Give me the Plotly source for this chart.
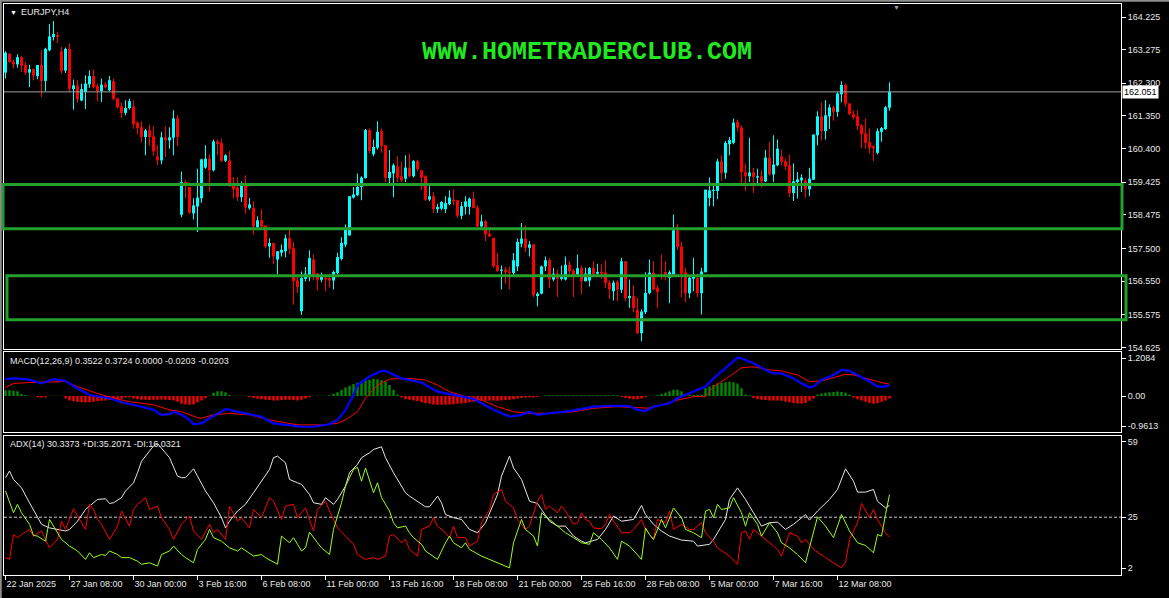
import plotly.graph_objects as go

# ---------------- DATA ----------------
tick_idx = [0, 16, 32, 48, 64, 80, 96, 112, 128, 144, 160, 176, 192, 208]
tick_text = ["22 Jan 2025", "27 Jan 08:00", "30 Jan 00:00", "3 Feb 16:00", "6 Feb 08:00",
             "11 Feb 00:00", "13 Feb 16:00", "18 Feb 08:00", "21 Feb 00:00", "25 Feb 16:00",
             "28 Feb 08:00", "5 Mar 00:00", "7 Mar 16:00", "12 Mar 08:00"]

ohlc_rows = [
    (162.61, 163.23, 162.44, 163.19), (163.16, 163.18, 162.90, 162.92), (162.92, 162.99, 162.73, 162.85),
    (162.85, 163.14, 162.75, 163.06), (163.06, 163.10, 162.63, 162.81), (162.83, 162.92, 162.55, 162.61),
    (162.61, 162.84, 162.19, 162.71), (162.71, 162.73, 162.38, 162.53), (162.51, 162.83, 162.42, 162.83),
    (162.83, 163.26, 161.90, 162.37), (162.37, 163.33, 162.07, 163.30), (163.26, 164.02, 163.23, 163.66),
    (163.64, 164.11, 163.54, 163.73), (163.70, 163.78, 163.47, 163.65), (163.23, 163.36, 162.58, 162.66),
    (162.67, 163.34, 162.60, 163.30), (163.30, 163.46, 162.05, 162.14), (162.13, 162.41, 161.53, 162.24),
    (162.24, 162.39, 161.74, 161.84), (161.80, 162.29, 161.78, 162.13), (162.05, 162.53, 161.55, 162.29),
    (162.27, 162.68, 162.17, 162.51), (162.51, 162.71, 162.15, 162.19), (162.22, 162.29, 161.78, 162.07),
    (162.07, 162.44, 161.76, 162.26), (162.27, 162.34, 162.15, 162.18), (162.10, 162.51, 162.07, 162.39),
    (162.36, 162.44, 161.81, 161.85), (161.86, 161.87, 161.56, 161.60), (161.63, 161.74, 161.29, 161.44),
    (161.44, 161.81, 161.37, 161.58), (161.58, 161.86, 161.54, 161.78), (161.63, 161.81, 160.98, 161.12),
    (161.15, 161.20, 160.82, 161.00), (161.02, 161.20, 160.59, 160.74), (160.74, 160.98, 160.21, 160.93),
    (160.93, 161.10, 160.48, 160.74), (160.76, 161.05, 160.19, 160.32), (160.18, 160.50, 159.92, 160.06),
    (160.06, 160.89, 159.95, 160.73), (160.73, 161.05, 160.16, 160.64), (160.64, 161.02, 160.40, 160.73),
    (160.72, 161.52, 160.21, 161.28), (161.28, 161.37, 160.47, 160.74), (158.48, 159.74, 158.41, 159.43),
    (159.43, 159.48, 158.95, 159.37), (159.29, 159.29, 158.51, 158.54), (158.52, 158.96, 158.34, 158.75),
    (158.72, 159.82, 157.98, 158.98), (158.96, 160.11, 158.83, 160.09), (159.85, 160.50, 159.82, 160.11),
    (160.11, 160.24, 159.16, 159.77), (159.77, 160.67, 159.74, 160.61), (160.61, 160.67, 160.21, 160.53),
    (160.56, 160.69, 160.01, 160.05), (160.05, 160.24, 160.01, 160.21), (160.06, 160.33, 159.29, 159.39),
    (159.34, 159.58, 158.95, 159.22), (159.27, 159.56, 158.88, 158.99), (158.99, 159.45, 158.85, 159.34),
    (159.34, 159.63, 158.50, 158.69), (158.67, 158.97, 158.63, 158.78), (158.68, 158.87, 157.91, 158.14),
    (158.12, 158.44, 158.10, 158.32), (158.32, 158.64, 158.10, 158.14), (158.17, 158.17, 157.50, 157.56),
    (157.56, 157.80, 157.23, 157.66), (157.66, 157.66, 157.04, 157.27), (157.18, 157.42, 156.75, 157.42),
    (157.38, 157.62, 157.27, 157.46), (157.42, 157.91, 157.25, 157.80), (157.80, 158.03, 157.35, 157.49),
    (157.51, 157.69, 155.87, 156.55), (156.57, 156.69, 156.20, 156.38), (155.68, 156.83, 155.57, 156.64),
    (156.62, 156.96, 156.55, 156.77), (156.67, 157.45, 156.55, 157.22), (157.18, 157.33, 156.57, 156.72),
    (156.77, 156.79, 156.28, 156.59), (156.59, 156.80, 156.52, 156.69), (156.65, 156.72, 156.26, 156.60),
    (156.64, 156.77, 156.36, 156.57), (156.57, 156.86, 156.31, 156.82), (156.79, 157.38, 156.75, 157.25),
    (157.20, 157.83, 157.15, 157.66), (157.61, 158.20, 157.54, 158.06), (157.88, 159.02, 157.88, 159.02),
    (158.98, 159.29, 158.95, 159.07), (159.05, 159.68, 159.02, 159.29), (159.29, 159.60, 158.90, 159.56),
    (159.55, 160.97, 159.53, 160.94), (160.94, 160.99, 160.26, 160.33), (160.24, 160.67, 160.18, 160.45),
    (160.43, 161.20, 160.38, 160.89), (160.91, 160.99, 160.28, 160.48), (160.50, 160.50, 159.43, 159.55),
    (159.55, 160.36, 159.39, 159.72), (159.68, 159.97, 158.99, 159.92), (159.89, 160.18, 159.43, 159.56),
    (159.60, 160.02, 159.43, 159.48), (159.53, 160.21, 159.43, 159.85), (159.85, 160.26, 159.56, 159.60),
    (159.60, 160.07, 159.56, 160.04), (160.04, 160.08, 159.75, 159.80), (159.77, 159.79, 159.19, 159.56),
    (159.60, 159.63, 158.88, 158.92), (158.92, 159.31, 158.88, 159.02), (159.02, 159.14, 158.53, 158.64),
    (158.64, 158.80, 158.53, 158.71), (158.66, 158.87, 158.61, 158.85), (158.64, 159.02, 158.53, 158.82),
    (158.79, 159.19, 158.76, 158.98), (158.92, 159.22, 158.76, 158.87), (158.90, 158.92, 158.39, 158.45),
    (158.45, 158.85, 158.35, 158.73), (158.71, 159.02, 158.49, 158.87), (158.71, 158.98, 158.49, 158.95),
    (158.95, 159.16, 158.66, 158.68), (158.69, 158.76, 158.11, 158.14), (158.14, 158.48, 158.11, 158.29),
    (158.29, 158.32, 157.72, 157.91), (157.93, 158.08, 157.85, 157.85), (157.81, 157.81, 156.94, 156.98),
    (157.01, 157.37, 156.82, 156.85), (156.85, 157.01, 156.31, 156.89), (156.89, 156.96, 156.48, 156.82),
    (156.83, 156.98, 156.31, 156.79), (156.79, 157.37, 156.72, 157.16), (156.98, 157.79, 156.85, 157.69),
    (157.64, 158.24, 157.54, 157.79), (157.79, 158.17, 157.40, 157.52), (157.52, 157.72, 157.27, 157.62),
    (157.62, 157.64, 156.09, 156.14), (156.12, 156.23, 155.82, 156.19), (156.19, 157.01, 156.17, 156.98),
    (156.98, 157.27, 156.85, 157.16), (157.16, 157.22, 156.35, 156.60), (156.60, 156.94, 156.55, 156.77),
    (156.77, 156.89, 156.09, 156.62), (156.62, 157.01, 156.57, 156.69), (156.60, 157.27, 156.57, 157.03),
    (157.03, 157.13, 156.69, 156.84), (156.86, 156.91, 156.09, 156.75), (156.75, 157.33, 156.70, 156.93),
    (156.93, 157.01, 156.17, 156.55), (156.55, 156.94, 156.54, 156.77), (156.57, 156.96, 156.40, 156.93),
    (156.94, 157.13, 156.72, 156.75), (156.77, 157.06, 156.74, 156.82), (156.82, 157.04, 156.62, 156.77),
    (156.80, 157.16, 156.35, 156.50), (156.51, 156.57, 156.04, 156.31), (156.26, 156.57, 155.99, 156.51),
    (156.54, 156.57, 155.97, 156.30), (156.30, 157.23, 156.21, 157.13), (157.13, 157.13, 155.97, 156.06),
    (156.06, 156.60, 155.78, 156.12), (156.12, 156.43, 155.65, 155.77), (155.72, 156.07, 155.02, 155.04),
    (155.04, 155.73, 154.81, 155.67), (155.65, 156.81, 155.60, 156.21), (156.21, 157.18, 156.17, 156.80),
    (156.80, 157.13, 156.28, 156.31), (156.35, 156.43, 155.77, 156.24), (156.75, 157.33, 156.59, 156.68),
    (156.82, 157.13, 156.57, 156.72), (156.65, 156.86, 155.91, 156.81), (156.75, 158.49, 156.75, 158.03),
    (158.03, 158.22, 157.45, 157.54), (157.56, 157.69, 156.09, 156.77), (156.81, 156.94, 155.94, 156.20),
    (156.20, 156.72, 156.06, 156.65), (156.62, 157.23, 156.26, 156.69), (156.65, 156.77, 156.09, 156.20),
    (156.20, 156.94, 155.58, 156.83), (156.81, 159.21, 156.81, 159.21), (158.97, 159.56, 158.73, 159.19),
    (159.17, 159.34, 158.73, 159.19), (159.17, 160.11, 158.93, 160.03), (160.03, 160.21, 159.46, 159.70),
    (159.70, 160.62, 159.53, 160.57), (160.53, 160.74, 160.21, 160.65), (160.57, 161.28, 160.53, 161.16),
    (161.18, 161.25, 160.89, 161.01), (161.01, 161.08, 159.39, 159.72), (159.72, 159.97, 159.17, 159.60),
    (159.60, 160.72, 159.43, 159.71), (159.71, 159.84, 159.11, 159.58), (159.56, 159.82, 159.39, 159.60),
    (159.60, 159.77, 159.27, 159.45), (159.45, 160.36, 159.43, 160.14), (160.14, 160.60, 159.62, 159.65),
    (159.65, 160.79, 159.43, 159.94), (159.92, 160.67, 159.89, 160.40), (160.18, 160.38, 159.92, 160.02),
    (160.03, 160.11, 159.79, 159.89), (159.92, 160.23, 159.00, 159.11), (159.11, 159.97, 158.88, 159.45),
    (159.43, 159.72, 158.95, 159.51), (159.48, 159.66, 159.14, 159.56), (159.48, 159.55, 158.97, 159.22),
    (159.22, 159.85, 159.02, 159.53), (159.50, 160.81, 159.50, 160.81), (160.79, 161.49, 160.50, 161.34),
    (161.34, 161.74, 160.63, 160.91), (160.91, 161.81, 160.67, 161.37), (161.34, 161.69, 160.97, 161.60),
    (161.60, 161.64, 161.21, 161.47), (161.47, 162.05, 161.33, 162.00), (161.98, 162.36, 161.76, 162.25),
    (162.25, 162.30, 161.62, 161.71), (161.71, 161.73, 161.37, 161.40), (161.40, 161.50, 161.25, 161.31),
    (161.34, 161.52, 160.94, 161.06), (161.08, 161.10, 160.42, 160.82), (160.84, 161.28, 160.40, 160.57),
    (160.59, 160.99, 160.26, 160.43), (160.47, 160.50, 160.04, 160.41), (160.28, 160.99, 160.24, 160.91),
    (160.89, 161.03, 160.60, 161.00), (160.97, 161.64, 160.94, 161.60), (161.59, 162.33, 161.50, 162.051),
]
opens = [r[0] for r in ohlc_rows]
highs = [r[1] for r in ohlc_rows]
lows = [r[2] for r in ohlc_rows]
closes = [r[3] for r in ohlc_rows]
bar_idx = list(range(len(ohlc_rows)))

last_price = 162.051
zone_upper = [159.358, 158.078]
zone_lower = [156.711, 155.431]

price_ticks = [164.225, 163.275, 162.300, 161.350, 160.400, 159.425, 158.475, 157.500, 156.550, 155.575, 154.625]

macd_hist = [
    0.18, 0.18, 0.17, 0.15, 0.06, 0.03, 0.01, 0.01, -0.04, -0.05,
    -0.04, 0.01, 0.01, 0.01, 0.01, -0.08, -0.14, -0.17, -0.19, -0.20,
    -0.21, -0.20, -0.18, -0.17, -0.15, -0.14, -0.12, -0.10, -0.10, -0.09,
    -0.05, -0.04, -0.08, -0.10, -0.12, -0.12, -0.13, -0.12, -0.12, -0.11,
    -0.12, -0.13, -0.14, -0.18, -0.25, -0.27, -0.28, -0.27, -0.20, -0.14,
    -0.06, 0.01, 0.10, 0.15, 0.15, 0.12, 0.03, 0.01, 0.01, 0.01,
    0.01, -0.03, -0.06, -0.09, -0.10, -0.12, -0.13, -0.14, -0.14, -0.13,
    -0.12, -0.12, -0.13, -0.14, -0.12, -0.08, -0.04, 0.01, 0.01, 0.01,
    0.01, 0.02, 0.07, 0.12, 0.20, 0.27, 0.33, 0.38, 0.42, 0.46,
    0.50, 0.52, 0.54, 0.53, 0.50, 0.45, 0.35, 0.20, 0.05, -0.05,
    -0.10, -0.12, -0.14, -0.16, -0.20, -0.23, -0.25, -0.27, -0.28, -0.28,
    -0.28, -0.27, -0.26, -0.25, -0.24, -0.22, -0.20, -0.18, -0.16, -0.15,
    -0.15, -0.14, -0.14, -0.15, -0.14, -0.13, -0.12, -0.10, -0.08, -0.06,
    -0.05, -0.04, -0.05, -0.03, 0.01, 0.02, 0.02, 0.02, 0.02, 0.02,
    0.02, 0.02, 0.02, 0.02, 0.02, 0.02, 0.02, 0.02, 0.02, 0.02,
    0.02, 0.02, 0.02, 0.02, -0.03, -0.06, -0.09, -0.10, -0.10, -0.08,
    -0.03, 0.01, 0.01, 0.02, 0.06, 0.10, 0.15, 0.20, 0.20, 0.15,
    0.04, 0.03, 0.03, 0.03, 0.04, 0.25, 0.30, 0.35, 0.40, 0.42,
    0.44, 0.45, 0.44, 0.40, 0.25, 0.05, 0.02, -0.06, -0.10, -0.12,
    -0.13, -0.14, -0.14, -0.14, -0.15, -0.18, -0.20, -0.22, -0.24, -0.24,
    -0.22, -0.15, -0.08, 0.05, 0.08, 0.10, 0.12, 0.13, 0.14, 0.13,
    0.10, 0.05, -0.05, -0.10, -0.14, -0.18, -0.22, -0.25, -0.23, -0.18,
    -0.14, -0.08,
]

macd_idx = [0, 2, 6, 9, 12, 15, 18, 21, 26, 29, 33, 37, 39, 41, 42, 44, 46, 47, 49, 51, 54, 55, 58, 60, 64,
            67, 71, 74, 77, 81, 83, 85, 87, 88, 91, 94, 95, 99, 104, 108, 113, 117, 119, 122, 126, 129,
            131, 133, 136, 140, 144, 147, 153, 156, 158, 160, 162, 166, 168, 172, 175, 177, 180, 183, 184,
            187, 190, 192, 194, 197, 199, 201, 202, 204, 207, 209, 211, 213, 216, 218, 220, 221]
macd_val = [0.54, 0.56, 0.52, 0.40, 0.54, 0.48, 0.24, 0.03, -0.07, -0.20, -0.31, -0.44, -0.60, -0.58, -0.50,
            -0.60, -0.76, -0.90, -0.87, -0.71, -0.50, -0.41, -0.50, -0.55, -0.66, -0.87, -0.92, -0.98, -0.98,
            -0.90, -0.76, -0.44, 0.03, 0.35, 0.62, 0.80, 0.80, 0.56, 0.43, 0.14, 0.01, -0.09, -0.23, -0.44,
            -0.66, -0.60, -0.50, -0.60, -0.55, -0.50, -0.42, -0.34, -0.31, -0.32, -0.44, -0.48, -0.34, -0.23,
            -0.07, 0.14, 0.30, 0.56, 0.88, 1.22, 1.20, 1.04, 0.83, 0.72, 0.72, 0.56, 0.40, 0.27, 0.30, 0.51,
            0.67, 0.83, 0.80, 0.67, 0.46, 0.30, 0.30, 0.3522]

signal_idx = [0, 2, 6, 15, 18, 23, 27, 31, 37, 41, 44, 48, 49, 52, 56, 61, 66, 73, 79, 83, 85, 88, 90, 93,
              96, 101, 105, 108, 111, 115, 119, 123, 127, 131, 136, 142, 147, 153, 158, 161, 164, 168, 172,
              175, 177, 181, 184, 187, 191, 194, 198, 201, 204, 208, 210, 212, 215, 218, 221]
signal_val = [0.27, 0.40, 0.43, 0.46, 0.30, 0.08, -0.07, -0.18, -0.28, -0.44, -0.50, -0.69, -0.71, -0.60,
              -0.55, -0.60, -0.76, -0.92, -0.92, -0.87, -0.76, -0.50, -0.07, 0.35, 0.54, 0.56, 0.51, 0.35,
              0.14, -0.02, -0.13, -0.34, -0.50, -0.55, -0.55, -0.50, -0.39, -0.34, -0.37, -0.39, -0.28,
              -0.13, -0.02, -0.02, 0.30, 0.62, 0.90, 0.93, 0.83, 0.80, 0.67, 0.46, 0.48, 0.62, 0.69, 0.67,
              0.56, 0.46, 0.3724]

adx_idx = [0, 1, 2, 4, 6, 8, 9, 11, 13, 15, 16, 18, 20, 21, 23, 25, 26, 27, 29, 30, 32, 33, 34, 36, 37, 38,
           39, 41, 43, 44, 45, 47, 48, 50, 52, 54, 55, 56, 58, 60, 62, 64, 66, 67, 68, 70, 71, 73, 74, 76, 77,
           79, 80, 82, 83, 85, 86, 88, 89, 91, 92, 94, 95, 97, 99, 100, 101, 103, 105, 106, 108, 109, 110,
           112, 114, 116, 118, 120, 121, 123, 124, 126, 127, 129, 131, 133, 134, 136, 138, 140, 142, 144,
           145, 148, 150, 152, 154, 157, 159, 160, 162, 164, 166, 169, 172, 173, 176, 177, 180, 181, 183,
           185, 187, 189, 191, 193, 195, 197, 200, 201, 203, 206, 208, 210, 212, 213, 215, 217, 218, 220, 221]
adx_val = [42.8, 45.8, 42.0, 38.2, 31.5, 24.8, 21.8, 20.2, 19.5, 18.8, 19.5, 23.2, 28.5, 30.0, 33.0, 33.3,
           31.2, 31.5, 33.8, 36.8, 40.5, 45.0, 50.2, 54.8, 57.0, 58.2, 56.2, 51.8, 43.5, 42.8, 42.8, 46.8,
           43.5, 36.8, 31.5, 24.8, 20.2, 23.2, 27.8, 30.8, 36.0, 41.2, 46.5, 51.8, 52.5, 49.5, 42.0, 40.5,
           39.8, 35.2, 31.5, 30.8, 33.8, 30.8, 33.0, 39.0, 45.0, 48.8, 51.8, 54.0, 55.5, 56.7, 51.8, 45.0,
           39.0, 36.0, 34.5, 32.2, 29.7, 29.7, 34.5, 31.5, 26.2, 24.8, 24.0, 19.5, 18.0, 22.5, 27.0, 35.2,
           43.5, 52.5, 47.2, 42.0, 32.2, 31.2, 28.5, 23.2, 21.0, 21.0, 16.5, 14.2, 13.5, 15.0, 19.5, 25.5,
           23.2, 24.0, 30.3, 26.2, 21.8, 18.8, 16.5, 14.7, 14.2, 12.0, 12.8, 15.0, 24.0, 33.0, 38.2, 33.0,
           27.0, 21.0, 22.5, 22.8, 19.5, 21.8, 26.2, 23.7, 27.8, 33.0, 37.5, 46.8, 41.2, 36.3, 36.3, 37.5,
           32.2, 29.2, 30.3373]

pdi_idx = [0, 1, 2, 3, 4, 6, 7, 8, 10, 11, 12, 14, 16, 18, 20, 21, 22, 24, 25, 26, 28, 29, 31, 33, 34, 36,
           38, 39, 41, 42, 44, 45, 47, 48, 50, 51, 52, 54, 56, 58, 59, 62, 64, 65, 68, 69, 71, 72, 73, 74, 75,
           76, 78, 79, 81, 82, 84, 85, 87, 88, 89, 90, 92, 93, 94, 96, 97, 98, 100, 101, 102, 104, 105, 107,
           108, 110, 111, 112, 114, 115, 116, 119, 122, 124, 126, 127, 129, 130, 132, 133, 134, 136, 138,
           140, 142, 144, 146, 147, 149, 151, 153, 154, 156, 159, 160, 161, 162, 164, 165, 166, 167, 169,
           170, 172, 174, 175, 176, 177, 178, 179, 181, 182, 184, 185, 186, 188, 189, 191, 193, 194, 196,
           198, 200, 203, 205, 207, 209, 211, 213, 215, 217, 218, 219, 220, 221]
pdi_val = [36.8, 31.5, 27.0, 30.8, 27.0, 21.8, 16.8, 16.5, 14.2, 24.0, 21.0, 15.0, 12.0, 9.8, 6.0, 9.0, 6.8,
           8.2, 7.8, 9.8, 8.2, 6.8, 6.8, 5.2, 3.8, 4.5, 3.0, 8.2, 9.8, 12.0, 8.2, 6.8, 4.5, 10.5, 15.0, 19.5,
           15.8, 14.2, 11.2, 9.8, 11.2, 7.5, 8.2, 6.8, 3.8, 16.5, 13.5, 15.8, 12.8, 9.8, 11.2, 18.3, 13.5,
           11.2, 8.2, 19.5, 31.5, 39.0, 46.5, 47.5, 41.2, 47.2, 36.0, 40.5, 33.8, 27.8, 22.5, 20.2, 21.0,
           18.0, 15.8, 12.8, 9.8, 7.5, 6.0, 13.5, 16.5, 13.5, 11.2, 13.5, 10.5, 7.5, 5.2, 3.8, 2.2, 13.5,
           24.0, 19.5, 16.5, 12.0, 27.0, 24.0, 21.0, 18.0, 15.8, 13.5, 12.8, 18.0, 15.0, 11.2, 6.0, 14.2,
           12.0, 6.0, 20.2, 17.2, 15.0, 24.0, 20.2, 24.8, 29.2, 24.8, 19.5, 18.0, 15.8, 27.8, 28.5, 24.8,
           30.8, 28.5, 29.2, 33.8, 27.0, 21.0, 27.0, 21.8, 16.5, 22.5, 18.0, 13.5, 11.2, 8.2, 4.5, 25.2,
           21.0, 15.8, 26.2, 18.8, 13.5, 12.3, 9.0, 17.2, 16.5, 26.2, 35.2071]

mdi_idx = [0, 1, 2, 3, 4, 6, 7, 9, 10, 11, 13, 14, 15, 17, 19, 20, 21, 22, 23, 24, 26, 28, 29, 31, 32, 33,
           35, 36, 38, 39, 41, 42, 44, 46, 47, 49, 51, 52, 53, 55, 56, 58, 59, 61, 62, 64, 66, 67, 69, 70, 72,
           73, 75, 76, 77, 78, 80, 81, 83, 85, 87, 88, 90, 92, 93, 95, 96, 97, 99, 100, 101, 103, 104, 106,
           107, 108, 110, 111, 112, 113, 115, 116, 118, 119, 121, 122, 124, 125, 127, 128, 130, 131, 133,
           134, 135, 136, 138, 139, 140, 142, 143, 144, 145, 146, 147, 149, 150, 151, 152, 154, 156, 157,
           159, 160, 162, 163, 165, 166, 167, 169, 171, 172, 174, 175, 177, 178, 181, 183, 184, 185, 186,
           187, 189, 191, 193, 194, 196, 198, 199, 200, 202, 205, 207, 209, 210, 211, 213, 214, 216, 217,
           218, 220, 221]
mdi_val = [6.8, 6.0, 17.2, 15.8, 17.2, 19.5, 16.5, 18.8, 15.0, 11.2, 15.0, 23.2, 19.5, 28.8, 22.5, 19.5,
           30.8, 28.5, 24.0, 21.8, 15.0, 21.0, 27.8, 21.0, 28.5, 30.8, 33.8, 28.5, 30.0, 24.8, 19.5, 15.0,
           21.8, 25.5, 18.8, 15.0, 21.8, 18.0, 19.5, 15.0, 30.0, 23.2, 24.8, 20.2, 28.5, 24.8, 33.8, 32.2,
           24.0, 30.0, 30.8, 24.8, 29.2, 24.0, 18.8, 28.5, 32.2, 27.8, 20.2, 16.5, 12.8, 8.2, 6.0, 6.8, 6.0,
           7.5, 16.5, 17.2, 13.5, 15.0, 10.5, 7.5, 19.5, 21.0, 24.8, 21.0, 18.0, 15.8, 21.0, 15.8, 15.8,
           12.0, 14.2, 22.5, 28.5, 35.2, 37.5, 32.2, 29.2, 24.0, 19.5, 21.0, 32.2, 35.2, 28.5, 30.0, 27.0,
           30.0, 27.8, 21.8, 22.5, 27.0, 24.0, 23.2, 20.2, 19.8, 21.8, 26.2, 23.2, 18.0, 18.0, 19.5, 24.0,
           19.5, 15.0, 24.0, 22.5, 27.8, 19.5, 21.8, 19.5, 19.5, 22.5, 18.0, 14.2, 11.2, 7.5, 3.8, 18.0,
           18.8, 15.0, 19.5, 16.5, 13.5, 10.5, 7.5, 18.0, 16.5, 13.5, 15.0, 10.5, 6.8, 4.5, 2.2, 4.5, 15.0,
           22.5, 31.2, 24.8, 28.5, 24.0, 18.0, 16.0321]

# ---------------- LAYOUT HELPERS (pixel geometry of the MT4 window) ----------------
W, H = 1169, 598
PL, PR, PT, PB = 4, 1121, 4, 575          # plot-area pixel box


def pxx(x):
    return (x - PL) / (PR - PL)


def pyy(y):
    return (PB - y) / (PB - PT)


BULL, BEAR = "#00ffff", "#ff0000"
FONT = "Liberation Sans, Arial, sans-serif"
TXT = "#e8e8e8"

x_range = [-0.375, -0.375 + (PR - PL) / 4.0]
price_range = [164.225 - (348.5 - 17) / 34.375, 164.225 + (17 - 4) / 34.375]
macd_range = [-(432 - 396) / 31.4, (396 - 351.5) / 31.4]
adx_range = [2 - (575 - 568.3) / 2.221, 59 + (441.7 - 435.5) / 2.221]

fig = go.Figure()

cols = [BULL if c >= o else BEAR for o, c in zip(opens, closes)]
fig.add_trace(go.Bar(x=bar_idx, y=[h - l for h, l in zip(highs, lows)], base=lows, width=0.25,
                     marker=dict(color=cols, line=dict(width=0)), xaxis="x", yaxis="y", hoverinfo="skip"))
fig.add_trace(go.Bar(x=bar_idx, y=[max(abs(c - o), 0.03) for o, c in zip(opens, closes)],
                     base=[min(o, c) for o, c in zip(opens, closes)], width=0.75,
                     marker=dict(color=cols, line=dict(width=0)), xaxis="x", yaxis="y", hoverinfo="skip"))

hist_cols = ["#008a00" if v > 0 else "#ff0000" for v in macd_hist]
fig.add_trace(go.Bar(x=bar_idx, y=macd_hist, width=0.6, marker=dict(color=hist_cols, line=dict(width=0)),
                     xaxis="x2", yaxis="y2", hoverinfo="skip"))
fig.add_trace(go.Scatter(x=signal_idx, y=signal_val, mode="lines", line=dict(color="#ff0000", width=1),
                         xaxis="x2", yaxis="y2", hoverinfo="skip"))
fig.add_trace(go.Scatter(x=macd_idx, y=macd_val, mode="lines", line=dict(color="#0000ff", width=2.2),
                         xaxis="x2", yaxis="y2", hoverinfo="skip"))

fig.add_trace(go.Scatter(x=[x_range[0], x_range[1]], y=[25, 25], mode="lines",
                         line=dict(color="#c8c8c8", width=1, dash="3px,2px"), xaxis="x3", yaxis="y3",
                         hoverinfo="skip"))
fig.add_trace(go.Scatter(x=adx_idx, y=adx_val, mode="lines", line=dict(color="#e6e6e6", width=1),
                         xaxis="x3", yaxis="y3", hoverinfo="skip"))
fig.add_trace(go.Scatter(x=mdi_idx, y=mdi_val, mode="lines", line=dict(color="#ff0000", width=1),
                         xaxis="x3", yaxis="y3", hoverinfo="skip"))
fig.add_trace(go.Scatter(x=pdi_idx, y=pdi_val, mode="lines", line=dict(color="#9aff1a", width=1),
                         xaxis="x3", yaxis="y3", hoverinfo="skip"))

axis_common = dict(showgrid=False, zeroline=False, showline=True, mirror=True, linecolor="#ffffff",
                   linewidth=1)
yaxis_common = dict(axis_common, side="right", ticks="outside", ticklen=4, tickcolor="#ffffff",
                    tickfont=dict(family=FONT, size=9, color=TXT))

dom_main = [pyy(349), 1]
dom_macd = [pyy(432), pyy(351.5)]
dom_adx = [0, pyy(435.5)]

fig.update_layout(
    width=W, height=H,
    margin=dict(l=PL, r=W - PR, t=PT, b=H - PB),
    paper_bgcolor="#000000", plot_bgcolor="#000000",
    showlegend=False, barmode="overlay", hovermode=False,
    xaxis=dict(axis_common, domain=[0, 1], anchor="y", range=x_range, showticklabels=False, ticks=""),
    xaxis2=dict(axis_common, domain=[0, 1], anchor="y2", matches="x", showticklabels=False, ticks=""),
    xaxis3=dict(axis_common, domain=[0, 1], anchor="y3", matches="x", tickvals=tick_idx, ticktext=tick_text,
                ticks="outside", ticklen=4, tickcolor="#ffffff", ticklabelposition="outside right",
                tickfont=dict(family=FONT, size=9, color=TXT)),
    yaxis=dict(yaxis_common, domain=dom_main, anchor="x", range=price_range,
               tickvals=price_ticks, ticktext=["%.3f" % v for v in price_ticks]),
    yaxis2=dict(yaxis_common, domain=dom_macd, anchor="x2", range=macd_range,
                tickvals=[1.2084, 0.0, -0.9613], ticktext=["1.2084", "0.00", "-0.9613"]),
    yaxis3=dict(yaxis_common, domain=dom_adx, anchor="x3", range=adx_range,
                tickvals=[59, 25, 2], ticktext=["59", "25", "2"]),
)

GREEN_BOX = "#23a02c"
shapes = [
    dict(type="line", xref="paper", yref="y", x0=0, x1=1, y0=last_price, y1=last_price,
         line=dict(color="#a0a0a0", width=1)),
    dict(type="rect", xref="paper", yref="y", x0=pxx(3), x1=pxx(1122), y0=zone_upper[1], y1=zone_upper[0],
         line=dict(color=GREEN_BOX, width=3)),
    dict(type="rect", xref="paper", yref="y", x0=pxx(7), x1=pxx(1126), y0=zone_lower[1], y1=zone_lower[0],
         line=dict(color=GREEN_BOX, width=3)),
    # window frame (grey border of the terminal)
    dict(type="line", xref="paper", yref="paper", x0=pxx(0.8), x1=pxx(0.8), y0=pyy(0), y1=pyy(H),
         line=dict(color="#8c8c8c", width=2)),
    dict(type="line", xref="paper", yref="paper", x0=pxx(0), x1=pxx(W), y0=pyy(0.8), y1=pyy(0.8),
         line=dict(color="#8c8c8c", width=2)),
]
fig.update_layout(shapes=shapes)

annotations = [
    dict(xref="paper", yref="paper", x=pxx(8), y=pyy(12.5), xanchor="left", yanchor="middle",
         text="▼", showarrow=False, font=dict(family=FONT, size=7, color="#ffffff")),
    dict(xref="paper", yref="paper", x=pxx(19), y=pyy(12.5), xanchor="left", yanchor="middle",
         text="EURJPY,H4", showarrow=False, font=dict(family=FONT, size=9, color=TXT)),
    dict(xref="paper", yref="paper", x=pxx(587), y=pyy(52), xanchor="center", yanchor="middle",
         text="<b>WWW.HOMETRADERCLUB.COM</b>", showarrow=False,
         font=dict(family="Liberation Mono, Courier New, monospace", size=25, color="#22e822")),
    dict(xref="paper", yref="paper", x=pxx(8), y=pyy(360.5), xanchor="left", yanchor="middle",
         text="MACD(12,26,9) 0.3522 0.3724 0.0000 -0.0203 -0.0203", showarrow=False,
         font=dict(family=FONT, size=9, color=TXT)),
    dict(xref="paper", yref="paper", x=pxx(8), y=pyy(444), xanchor="left", yanchor="middle",
         text="ADX(14) 30.3373 +DI:35.2071 -DI:16.0321", showarrow=False,
         font=dict(family=FONT, size=9, color=TXT)),
    dict(xref="paper", yref="y", x=1, y=last_price, xanchor="left", yanchor="middle", xshift=1,
         text="162.051", showarrow=False, bgcolor="#ffffff", borderpad=1,
         font=dict(family=FONT, size=9, color="#000000")),
    dict(xref="paper", yref="paper", x=pxx(896), y=pyy(7), xanchor="center", yanchor="middle",
         text="▼", showarrow=False, font=dict(family=FONT, size=7, color="#9a9a9a")),
]
fig.update_layout(annotations=annotations)

fig.write_html("out.html", config={"displayModeBar": False, "staticPlot": True},
               post_script="document.body.style.margin='0px';document.body.style.overflow='hidden';")
